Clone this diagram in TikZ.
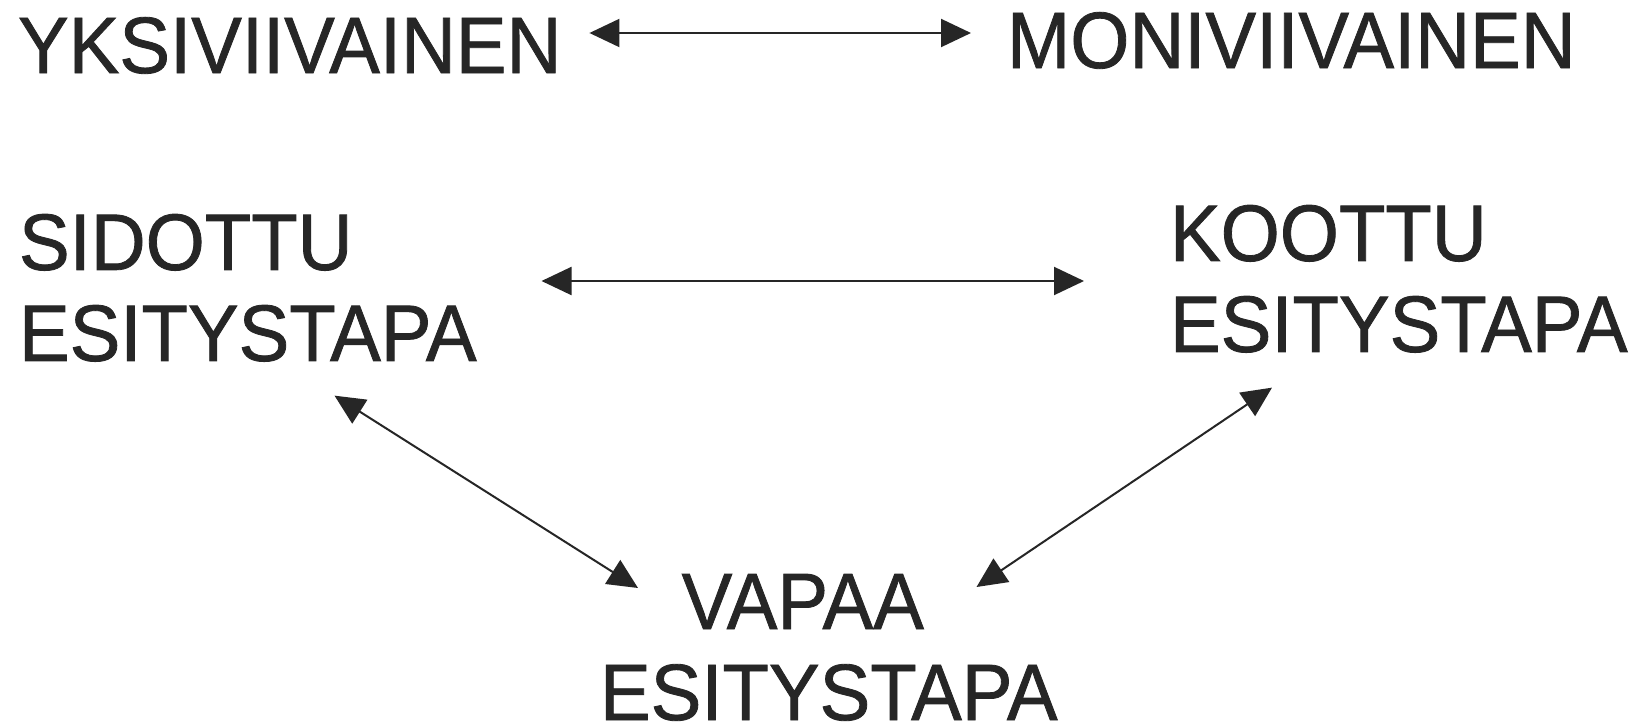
\documentclass[tikz,border=0pt]{standalone}
\usepackage{fontspec}
\newfontfamily\diafont[FakeStretch=0.95,FakeBold=1]{Liberation Sans}
\usetikzlibrary{arrows.meta}
\begin{document}
\begin{tikzpicture}[x=1pt,y=-1pt,
  lbl/.style={inner sep=0pt, outer sep=0pt, font=\diafont\fontsize{80}{91}\selectfont, text=black!85},
  arr/.style={{Triangle[length=30pt,width=28pt]}-{Triangle[length=30pt,width=28pt]}, line width=2pt, draw=black!85}]
\fill[white] (0,0) rectangle (1639,728);
\useasboundingbox (0,0) rectangle (1639,728);
\node[lbl, anchor=base west] (yk) at (18,73) {YKSIVIIVAINEN};
\node[lbl, anchor=base west] (moni) at (1007,68) {MONIVIIVAINEN};
\node[lbl, align=left, anchor=north west] (sid) at (19,214) {SIDOTTU\\ESITYSTAPA};
\node[lbl, align=left, anchor=north west] (koo) at (1170,205) {KOOTTU\\ESITYSTAPA};
\node[lbl, align=center, anchor=north west] (vap) at (600,574) {VAPAA\hspace*{52pt}\\ESITYSTAPA};
\draw[arr] ([shift={(28,-40)}]yk.base east) -- ([shift={(-36,-35)}]moni.base west);
\draw[arr] ([shift={(65,67)}]sid.north east) -- ([shift={(-86,76)}]koo.north west);
\draw[arr] ([shift={(-142,34)}]sid.south east) -- ([shift={(38,14)}]vap.north west);
\draw[arr] ([shift={(102,35)}]koo.south west) -- ([shift={(-81,13)}]vap.north east);
\end{tikzpicture}
\end{document}
